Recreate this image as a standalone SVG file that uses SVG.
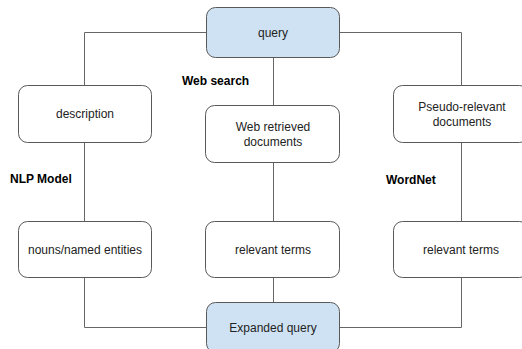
<svg xmlns="http://www.w3.org/2000/svg" width="522" height="349" viewBox="0 0 522 349">
<style>
.box{fill:#ffffff;stroke:#595959;stroke-width:1}
.blue{fill:#cfe2f3;stroke:#595959;stroke-width:1}
.t{font-family:"Liberation Sans",Arial,sans-serif;font-size:12px;fill:#222;text-anchor:middle}
.b{font-family:"Liberation Sans",Arial,sans-serif;font-size:12px;font-weight:bold;fill:#000}
.c{fill:none;stroke:#666;stroke-width:1}
</style>
<rect width="522" height="349" fill="#fff"/>
<g id="connectors">
<path class="c" d="M206.5 32.5H84.5V85"/>
<path class="c" d="M84.5 143V221"/>
<path class="c" d="M84.5 278V327.5H206"/>
<path class="c" d="M273.5 57V105"/>
<path class="c" d="M273.5 163V221"/>
<path class="c" d="M273.5 278V302"/>
<path class="c" d="M340 32.5H461.5V85"/>
<path class="c" d="M461.5 143V221"/>
<path class="c" d="M461.5 278V327.5H340"/>
</g>
<g id="query"><rect class="blue" x="206.5" y="7.5" width="133" height="50" rx="9"/><text class="t" x="273" y="36.5">query</text></g>
<g id="description"><rect class="box" x="18.5" y="85.5" width="133" height="57" rx="9"/><text class="t" x="85" y="118">description</text></g>
<g id="web-retrieved"><rect class="box" x="205.5" y="105.5" width="134" height="57" rx="9"/><text class="t" x="273" y="131">Web retrieved</text><text class="t" x="273" y="145.5">documents</text></g>
<g id="pseudo-relevant"><rect class="box" x="393.5" y="85.5" width="135" height="57" rx="9"/><text class="t" x="462" y="111">Pseudo-relevant</text><text class="t" x="462" y="125.5">documents</text></g>
<g id="nouns"><rect class="box" x="18.5" y="221.5" width="133" height="56" rx="9"/><text class="t" x="85" y="254">nouns/named entities</text></g>
<g id="relevant-terms-web"><rect class="box" x="205.5" y="221.5" width="134" height="56" rx="9"/><text class="t" x="273" y="254">relevant terms</text></g>
<g id="relevant-terms-wordnet"><rect class="box" x="393.5" y="221.5" width="135" height="56" rx="9"/><text class="t" x="461" y="254">relevant terms</text></g>
<g id="expanded-query"><rect class="blue" x="206.5" y="302.5" width="133" height="50" rx="9"/><text class="t" x="273" y="331.5">Expanded query</text></g>
<g id="labels">
<text class="b" x="182" y="85">Web search</text>
<text class="b" x="10" y="183">NLP Model</text>
<text class="b" x="386" y="184">WordNet</text>
</g>
</svg>
